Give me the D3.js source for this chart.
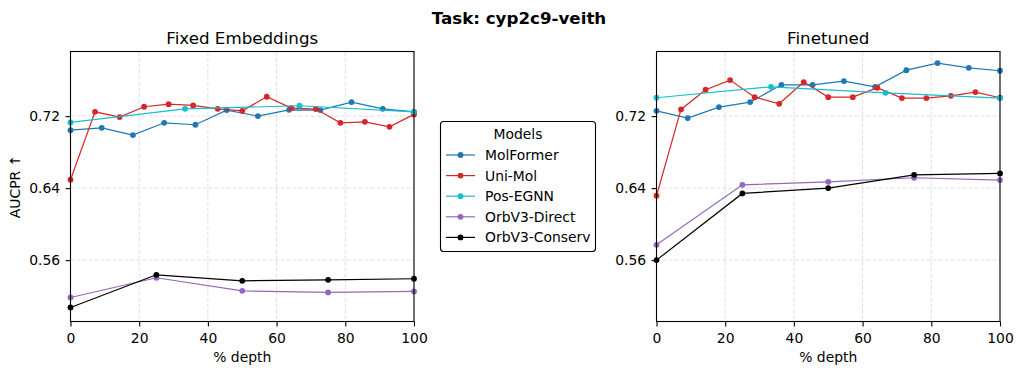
<!DOCTYPE html>
<html>
<head>
<meta charset="utf-8">
<script src="https://cdn.jsdelivr.net/npm/d3@7"></script>
<style>
  body { margin: 0; background: #fff; }
  svg { display: block; font-family: "DejaVu Sans", sans-serif; }
</style>
</head>
<body>
<svg id="chart" width="1023" height="374"></svg>
<script>
// ---- Data ----
const suptitle = "Task: cyp2c9-veith";
const panelTitles = ["Fixed Embeddings", "Finetuned"];
const modelNames = ["MolFormer", "Uni-Mol", "Pos-EGNN", "OrbV3-Direct", "OrbV3-Conserv"];
const modelColors = ["#1f77b4", "#d62728", "#17becf", "#9467bd", "#000000"];

const xMolFormer = [0, 9.09, 18.18, 27.27, 36.36, 45.45, 54.55, 63.64, 72.73, 81.82, 90.91, 100];
const xUniMol = [0, 7.14, 14.29, 21.43, 28.57, 35.71, 42.86, 50, 57.14, 64.29, 71.43, 78.57, 85.71, 92.86, 100];
const xPosEGNN = [0, 33.33, 66.67, 100];
const xOrb = [0, 25, 50, 75, 100];

// Fixed Embeddings
const fixedMolFormer = [0.7044, 0.7070, 0.6989, 0.7126, 0.7104, 0.7267, 0.7200, 0.7270, 0.7267, 0.7356, 0.7281, 0.7248];
const fixedUniMol = [0.6493, 0.7248, 0.7189, 0.7304, 0.7333, 0.7319, 0.7281, 0.7259, 0.7415, 0.7289, 0.7278, 0.7126, 0.7137, 0.7081, 0.7219];
const fixedPosEGNN = [0.7130, 0.7281, 0.7315, 0.7248];
const fixedOrbDirect = [0.5185, 0.5404, 0.5259, 0.5241, 0.5252];
const fixedOrbConserv = [0.5074, 0.5437, 0.5370, 0.5381, 0.5393];

// Finetuned
const ftMolFormer = [0.7259, 0.7178, 0.7300, 0.7356, 0.7548, 0.7548, 0.7589, 0.7526, 0.7711, 0.7789, 0.7737, 0.7704];
const ftUniMol = [0.6315, 0.7274, 0.7493, 0.7600, 0.7411, 0.7337, 0.7578, 0.7411, 0.7411, 0.7515, 0.7400, 0.7400, 0.7426, 0.7467, 0.7404];
const ftPosEGNN = [0.7404, 0.7526, 0.7459, 0.7400];
const ftOrbDirect = [0.5770, 0.6437, 0.6470, 0.6515, 0.6489];
const ftOrbConserv = [0.5600, 0.6341, 0.6400, 0.6548, 0.6563];

const xTicks = [0, 20, 40, 60, 80, 100];
const yTicks = [0.56, 0.64, 0.72];
const yDomain = [0.4918, 0.7918];
const xLabel = "% depth";
const yLabel = "AUCPR ↑";
const legendTitle = "Models";

// ---- Build ----
const panels = [
  { title: panelTitles[0], left: 70.5, series: [
      [xMolFormer, fixedMolFormer], [xUniMol, fixedUniMol], [xPosEGNN, fixedPosEGNN],
      [xOrb, fixedOrbDirect], [xOrb, fixedOrbConserv]] },
  { title: panelTitles[1], left: 656.5, series: [
      [xMolFormer, ftMolFormer], [xUniMol, ftUniMol], [xPosEGNN, ftPosEGNN],
      [xOrb, ftOrbDirect], [xOrb, ftOrbConserv]] }
];

const svg = d3.select("#chart");
const W = 343.5, plotTop = 51.5, plotBottom = 321.5;
const fs = "13.9px";

svg.append("text").attr("x", 519).attr("y", 24)
  .attr("text-anchor", "middle").attr("font-weight", "bold").attr("font-size", "16.7px")
  .text(suptitle);

panels.forEach((p, pi) => {
  const x = d3.scaleLinear().domain([0, 100]).range([p.left, p.left + W]);
  const y = d3.scaleLinear().domain(yDomain).range([plotBottom, plotTop]);
  const g = svg.append("g");

  // grid
  g.append("g").selectAll("line").data(xTicks).join("line")
    .attr("x1", d => x(d)).attr("x2", d => x(d)).attr("y1", plotTop).attr("y2", plotBottom)
    .attr("stroke", "#b0b0b0").attr("stroke-opacity", 0.5).attr("stroke-width", 0.8)
    .attr("stroke-dasharray", "4,2");
  g.append("g").selectAll("line").data(yTicks).join("line")
    .attr("y1", d => y(d)).attr("y2", d => y(d)).attr("x1", p.left).attr("x2", p.left + W)
    .attr("stroke", "#b0b0b0").attr("stroke-opacity", 0.5).attr("stroke-width", 0.8)
    .attr("stroke-dasharray", "4,2");

  // series
  p.series.forEach((s, si) => {
    const pts = s[0].map((xv, i) => [xv, s[1][i]]);
    const line = d3.line().x(d => x(d[0])).y(d => y(d[1]));
    g.append("path").attr("d", line(pts)).attr("fill", "none")
      .attr("stroke", modelColors[si]).attr("stroke-width", 1.2);
    g.append("g").selectAll("circle").data(pts).join("circle")
      .attr("cx", d => x(d[0])).attr("cy", d => y(d[1])).attr("r", 2.9)
      .attr("fill", modelColors[si]);
  });

  // axes
  const xa = g.append("g").attr("transform", `translate(0,${plotBottom})`)
    .call(d3.axisBottom(x).tickValues(xTicks).tickFormat(d3.format("d")).tickSize(4.9).tickPadding(6.5));
  const ya = g.append("g").attr("transform", `translate(${p.left},0)`)
    .call(d3.axisLeft(y).tickValues(yTicks).tickFormat(d3.format(".2f")).tickSize(4.9).tickPadding(5.5));
  [xa, ya].forEach(a => {
    a.select(".domain").remove();
    a.selectAll("line").attr("stroke", "#000").attr("stroke-width", 1.1);
    a.selectAll("text").attr("font-size", fs).attr("font-family", "DejaVu Sans").attr("fill", "#000");
  });

  // frame
  g.append("rect").attr("x", p.left).attr("y", plotTop).attr("width", W).attr("height", plotBottom - plotTop)
    .attr("fill", "none").attr("stroke", "#000").attr("stroke-width", 1.1);

  // title & labels
  g.append("text").attr("x", p.left + W / 2).attr("y", 44).attr("text-anchor", "middle")
    .attr("font-size", "16.7px").text(p.title);
  g.append("text").attr("x", p.left + W / 2).attr("y", 361.5).attr("text-anchor", "middle")
    .attr("font-size", fs).text(xLabel);
  if (pi === 0) {
    g.append("text").attr("transform", `translate(20,${(plotTop + plotBottom) / 2}) rotate(-90)`)
      .attr("text-anchor", "middle").attr("font-size", fs).text(yLabel);
  }
});

// legend
const lg = svg.append("g");
lg.append("rect").attr("x", 440.5).attr("y", 121.5).attr("width", 155).attr("height", 130)
  .attr("rx", 3).attr("fill", "#fff").attr("fill-opacity", 0.8)
  .attr("stroke", "#000").attr("stroke-width", 1.1);
lg.append("text").attr("x", 518).attr("y", 138.5).attr("text-anchor", "middle")
  .attr("font-size", fs).text(legendTitle);
modelNames.forEach((n, i) => {
  const cy = 155 + i * 20.6;
  lg.append("line").attr("x1", 446).attr("x2", 475).attr("y1", cy).attr("y2", cy)
    .attr("stroke", modelColors[i]).attr("stroke-width", 1.2);
  lg.append("circle").attr("cx", 460.5).attr("cy", cy).attr("r", 2.9).attr("fill", modelColors[i]);
  lg.append("text").attr("x", 485).attr("y", cy + 5).attr("font-size", fs).text(n);
});
</script>
</body>
</html>
